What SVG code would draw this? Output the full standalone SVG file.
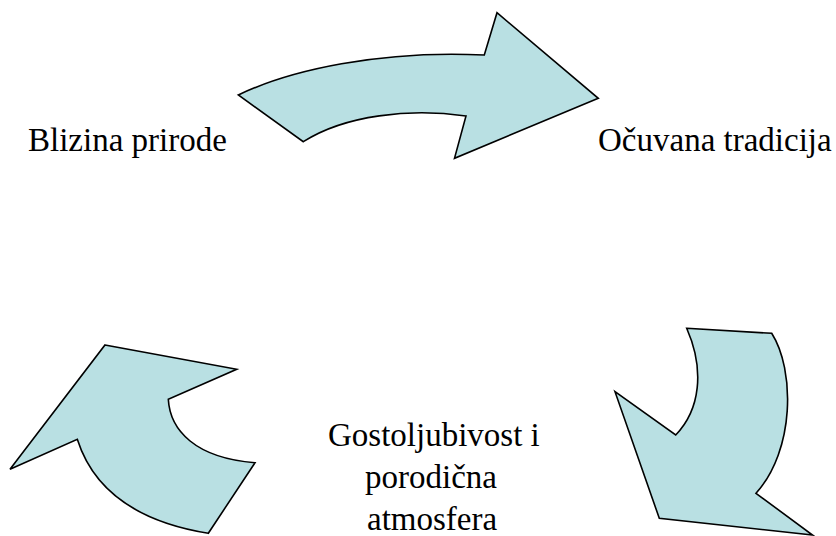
<svg xmlns="http://www.w3.org/2000/svg" width="836" height="536" viewBox="0 0 836 536">
<style>
.arrow{fill:#B9E0E3;stroke:#000;stroke-width:1.6;stroke-linejoin:miter}
.lbl{font-family:'Liberation Serif','DejaVu Serif',serif;font-size:33px;fill:#000}
</style>
<rect width="836" height="536" fill="#fff"/>
<g id="connectors">
<path id="arrow-top" class="arrow" d="M238.3,95 C290,70 380,50 484.3,55 L497,12.7 L598.3,98.3 L454.5,158.3 L466,116 C410,108 345,115 303.3,141.7 Z"/>
<path id="arrow-right" class="arrow" d="M686.7,328.3 L771.7,333.3 C795,370 795,450 756,493.3 L812.5,535 L659.3,518.3 L615,391.7 L675.7,435 C700,410 705,370 686.7,328.3 Z"/>
<path id="arrow-left" class="arrow" d="M105,345 L236.7,369.3 L168.3,399.3 C170,430 195,458 255,462.7 L208.3,533.3 C145,523 95,495 77.3,439.3 L10,469.3 Z"/>
</g>
<g id="node-blizina"><text class="lbl" font-family="Liberation Serif, serif" x="28" y="151">Blizina prirode</text></g>
<g id="node-tradicija"><text class="lbl" font-family="Liberation Serif, serif" x="598" y="151">Očuvana tradicija</text></g>
<g id="node-gostoljubivost">
<text class="lbl" font-family="Liberation Serif, serif" x="328" y="446">Gostoljubivost i</text>
<text class="lbl" font-family="Liberation Serif, serif" x="365" y="488">porodična</text>
<text class="lbl" font-family="Liberation Serif, serif" x="367" y="530">atmosfera</text>
</g>
</svg>
